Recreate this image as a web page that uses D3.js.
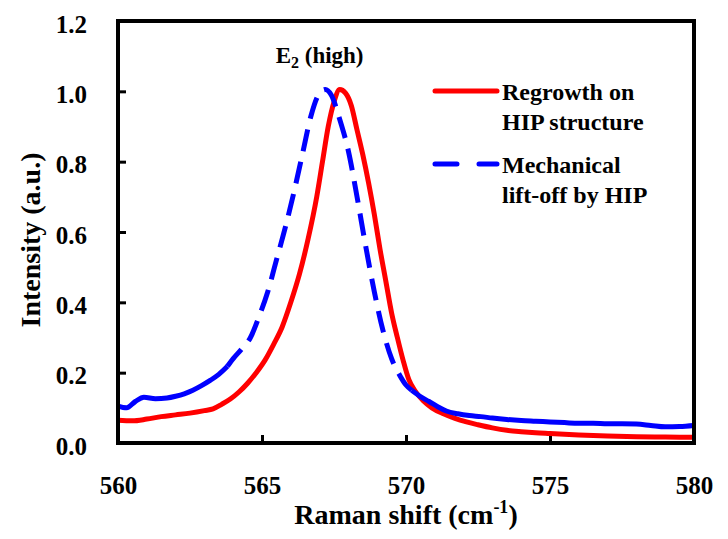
<!DOCTYPE html>
<html>
<head>
<meta charset="utf-8">
<script src="https://cdn.jsdelivr.net/npm/d3@7"></script>
<style>
  body { margin: 0; background: #fff; }
  svg text { font-family: "Liberation Serif", "Times New Roman", Times, "DejaVu Serif", serif !important; font-weight: bold; fill: #000; }
</style>
</head>
<body>
<div id="chart"></div>
<script>
// Regrowth on HIP structure (red, solid)
var redShift = [560.0,560.5,561.0,561.5,562.0,562.5,563.0,563.3,563.6,563.9,564.2,564.5,564.8,565.1,565.4,565.7,566.0,566.3,566.6,566.9,567.1,567.3,567.5,567.7,567.9,568.1,568.3,568.5,568.7,568.9,569.1,569.3,569.5,569.7,569.9,570.1,570.3,570.6,570.9,571.3,571.7,572.1,572.5,573.0,573.5,574.0,574.5,575.0,576.0,577.0,578.0,579.0,580.0];
var redInt = [0.065,0.063,0.068,0.075,0.080,0.085,0.092,0.097,0.110,0.125,0.145,0.170,0.200,0.235,0.280,0.330,0.400,0.480,0.580,0.700,0.800,0.900,0.970,1.005,0.995,0.960,0.890,0.820,0.740,0.650,0.550,0.460,0.370,0.300,0.235,0.180,0.150,0.120,0.100,0.083,0.070,0.060,0.052,0.043,0.036,0.032,0.029,0.027,0.023,0.020,0.018,0.017,0.016];

// Mechanical lift-off by HIP (blue, dashed)
var blueShift = [560.0,560.3,560.6,560.9,561.3,561.7,562.0,562.3,562.6,562.9,563.2,563.5,563.8,564.0,564.3,564.6,564.9,565.2,565.5,565.8,566.1,566.4,566.7,567.0,567.2,567.4,567.7,568.0,568.3,568.6,568.9,569.2,569.5,569.8,570.0,570.2,570.5,570.8,571.1,571.4,571.8,572.2,572.6,573.0,573.5,574.0,574.5,575.0,575.5,576.0,576.5,577.0,577.5,578.0,578.5,579.0,579.5,580.0];
var blueInt = [0.105,0.100,0.118,0.130,0.126,0.128,0.133,0.140,0.150,0.163,0.178,0.195,0.218,0.240,0.268,0.300,0.360,0.430,0.520,0.610,0.710,0.820,0.930,0.995,1.005,0.990,0.920,0.830,0.700,0.560,0.430,0.320,0.240,0.190,0.165,0.150,0.132,0.118,0.103,0.091,0.083,0.078,0.075,0.071,0.067,0.064,0.062,0.060,0.058,0.056,0.056,0.055,0.055,0.054,0.050,0.046,0.047,0.050];

var xTicks = [560,565,570,575,580];
var yTicks = [0,0.2,0.4,0.6,0.8,1.0,1.2];
var legendLabels = [["Regrowth on","HIP structure"],["Mechanical","lift-off by HIP"]];

var margin = {top:21,right:34,bottom:96,left:118},
  width = 728 - margin.left - margin.right,
  height = 539 - margin.top - margin.bottom;

var svg = d3.select("#chart")
  .append("svg")
  .attr("width",728)
  .attr("height",539)
  .append("g")
  .attr("transform",`translate(${margin.left},${margin.top})`);

var x = d3.scaleLinear().domain([560,580]).range([0,width]);
var y = d3.scaleLinear().domain([0,1.2]).range([height,0]);

// axes with inward ticks
var xAxis = svg.append("g")
  .attr("transform",`translate(0,${height})`)
  .call(d3.axisBottom(x).tickValues(xTicks).tickSizeInner(-8).tickSizeOuter(0).tickPadding(33).tickFormat(d3.format("d")));
var yAxis = svg.append("g")
  .call(d3.axisLeft(y).tickValues(yTicks).tickSizeInner(-8).tickSizeOuter(0).tickPadding(31).tickFormat(d3.format(".1f")));
[xAxis,yAxis].forEach(function(a){
  a.attr("font-family",null);
  a.select(".domain").remove();
  a.selectAll("line").attr("stroke","#000").attr("stroke-width",3);
  a.selectAll("text").style("font-size","25px");
});
yAxis.selectAll("text").attr("dy","0.45em");

var line = d3.line()
  .x(d => x(d[0]))
  .y(d => y(d[1]));

var red = redShift.map((v,i) => [v,redInt[i]]);
var blue = blueShift.map((v,i) => [v,blueInt[i]]);

svg.append("path")
  .datum(red)
  .attr("fill","none")
  .attr("stroke","#ff0000")
  .attr("stroke-width",5)
  .attr("stroke-linejoin","round")
  .attr("d",line.curve(d3.curveMonotoneX));

// blue: the dense tails look solid, the steep peak is dashed
var blueParts = [
  {pts: blue.filter(d => d[0] <= 563.8), dash: null},
  {pts: blue.filter(d => d[0] >= 563.8 && d[0] <= 570.2), dash: "22,11"},
  {pts: blue.filter(d => d[0] >= 570.2), dash: null}
];
blueParts.forEach(function(p){
  svg.append("path")
    .datum(p.pts)
    .attr("fill","none")
    .attr("stroke","#0000ff")
    .attr("stroke-width",5)
    .attr("stroke-linejoin","round")
    .attr("stroke-dasharray",p.dash)
    .attr("d",line);
});

// frame
svg.append("rect")
  .attr("width",width)
  .attr("height",height)
  .attr("fill","none")
  .attr("stroke","#000")
  .attr("stroke-width",4);

// peak label
var peak = svg.append("text")
  .attr("x",x(567.0))
  .attr("y",y(1.2) + 42)
  .attr("text-anchor","middle")
  .style("font-size","23px");
peak.append("tspan").text("E");
peak.append("tspan").text("2").style("font-size","16px").attr("dy","5");
peak.append("tspan").text(" (high)").attr("dy","-5");

// legend
var legend = svg.selectAll(".legend")
  .data(legendLabels)
  .enter().append("g")
  .attr("class","legend")
  .attr("transform",(d,i) => `translate(${435 - margin.left},${91 - margin.top + i*73})`);
legend.append("line")
  .attr("x1",0).attr("x2",62)
  .attr("stroke",(d,i) => i === 0 ? "#ff0000" : "#0000ff")
  .attr("stroke-width",5)
  .attr("stroke-linecap","round")
  .attr("stroke-dasharray",(d,i) => i === 0 ? null : "22,22");
legend.each(function(d){
  var t = d3.select(this).append("text")
    .attr("x",67)
    .attr("y",9)
    .style("font-size","24px");
  t.selectAll("tspan").data(d).enter().append("tspan")
    .attr("x",67)
    .attr("dy",(s,j) => j === 0 ? 0 : 30)
    .text(s => s);
});

// axis titles
svg.append("text")
  .attr("x",width/2)
  .attr("y",height + 81)
  .attr("text-anchor","middle")
  .style("font-size","28px")
  .call(function(t){
    t.append("tspan").text("Raman shift (cm");
    t.append("tspan").text("-1").style("font-size","18px").attr("dy","-11");
    t.append("tspan").text(")").attr("dy","11");
  });
svg.append("text")
  .attr("transform",`translate(${-margin.left + 40},${height/2 + 8}) rotate(-90)`)
  .attr("text-anchor","middle")
  .style("font-size","28px")
  .text("Intensity (a.u.)");
</script>
</body>
</html>
